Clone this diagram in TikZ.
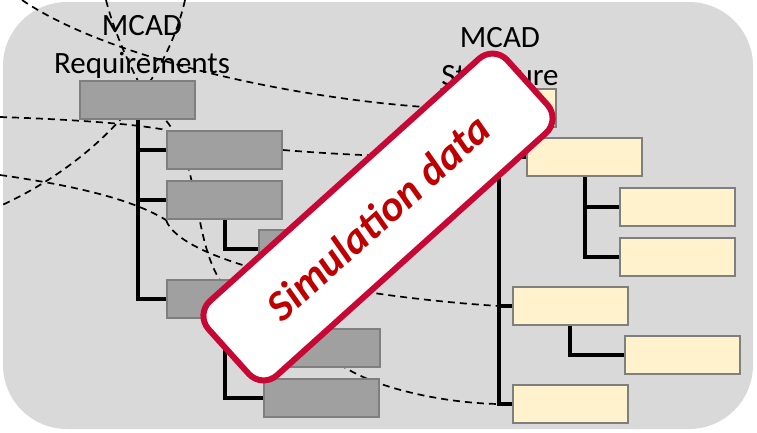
\documentclass[tikz,border=0pt]{standalone}
\usepackage{fontspec}
\setmainfont{Carlito}
\usetikzlibrary{positioning,calc}
\definecolor{panel}{RGB}{217,217,217}
\definecolor{reqfill}{RGB}{160,160,160}
\definecolor{boxline}{RGB}{127,127,127}
\definecolor{strfill}{RGB}{255,242,204}
\definecolor{stampred}{RGB}{200,8,52}
\definecolor{stamptext}{RGB}{192,0,0}
\tikzset{reqbox/.style={draw=boxline,fill=reqfill,line width=2pt,minimum width=115pt,minimum height=38pt,inner sep=0pt},
  strbox/.style={reqbox,fill=strfill},
  trunk/.style={line width=4pt,black},
  link/.style={line width=1.7pt,black,dash pattern=on 7pt off 5pt},
  heading/.style={font=\fontsize{31}{38}\selectfont,align=center,inner sep=0pt,anchor=north},
  stamp/.style={draw=stampred,fill=white,line width=6pt,rounded corners=20pt,minimum width=402pt,minimum height=100pt,
    text=stamptext,font=\fontsize{43}{50}\selectfont\bfseries\itshape}}

\begin{document}
\begin{tikzpicture}[x=1pt,y=-1pt]
\useasboundingbox (0,0) rectangle (757,432);
\fill[panel,rounded corners=64pt] (3,2) rectangle (753,429);
\node[heading] (reqlabel) at (142,15) {MCAD\\Requirements};
\node[heading] (strlabel) at (500,27) {MCAD\\Structure};
% requirements tree
\node[reqbox] (r0) at (137.5,100) {};
\node[reqbox] (r1) at (224.5,150) {};
\node[reqbox] (r2) at (224.5,200) {};
\node[reqbox] (r2a) at (316.5,249) {};
\node[reqbox] (r3) at (224.5,298.5) {};
\node[reqbox] (r3a) at (322,348) {};
\node[reqbox] (r3b) at (321.5,397.5) {};
% structure tree
\node[strbox] (s0) at (498.5,108) {};
\node[strbox] (s1) at (584.5,157) {};
\node[strbox] (s1a) at (677.5,207) {};
\node[strbox] (s1b) at (677.5,256.5) {};
\node[strbox] (s2) at (570,306) {};
\node[strbox] (s2a) at (682.5,355) {};
\node[strbox] (s3) at (570,404) {};
\coordinate (s2tap) at (s0.south |- s2.west);
\coordinate (s3tap) at (s0.south |- s3.west);
\coordinate (topa) at (22,0);
\coordinate (topb) at (106,0);
\coordinate (topc) at (185,0);
\coordinate (lefta) at (0,117);
\coordinate (leftb) at (0,175);
\coordinate (leftc) at (0,206);
\coordinate (hidden) at (240,300);
% dashed links
\draw[link] (topa) .. controls (110,60) and (300,100) .. (s0.west);
\draw[link] (topb) .. controls (115,35) and (130,65) .. (r0.north);
\draw[link] (topc) .. controls (165,90) and (90,165) .. (leftc);
\draw[link] (lefta) .. controls (60,119) and (130,123) .. (r1.north west);
\draw[link] (leftb) .. controls (70,185) and (130,198) .. (r2.south west);
\draw[link] (r0.center) .. controls (215,130) and (180,265) .. (hidden);
\draw[link] (r2.south west) .. controls (180,260) and (330,295) .. (s2tap);
\draw[link] (r1.east) .. controls (380,158) and (450,157) .. (s1.west);
\draw[link] (r3a.center) .. controls (350,385) and (440,403) .. (s3tap);
\foreach \kid in {r1,r2,r3}
  \draw[trunk] (r0.south) |- (\kid.west);
\draw[trunk] (r2.south) |- (r2a.west);
\foreach \kid in {r3a,r3b}
  \draw[trunk] (r3.south) |- (\kid.west);
\foreach \kid in {s1,s2,s3}
  \draw[trunk] (s0.south) |- (\kid.west);
\foreach \kid in {s1a,s1b}
  \draw[trunk] (s1.south) |- (\kid.west);
\draw[trunk] (s2.south) |- (s2a.west);
% boxes again, over the lines
\foreach \part in {r0,r1,r2,r2a,r3,r3a,r3b}
  \node[reqbox] at (\part) {};
\foreach \part in {s0,s1,s1a,s1b,s2,s2a,s3}
  \node[strbox] at (\part) {};
\node[stamp,rotate=42] (simdata) at (378,217) {Simulation data};
\end{tikzpicture}
\end{document}
